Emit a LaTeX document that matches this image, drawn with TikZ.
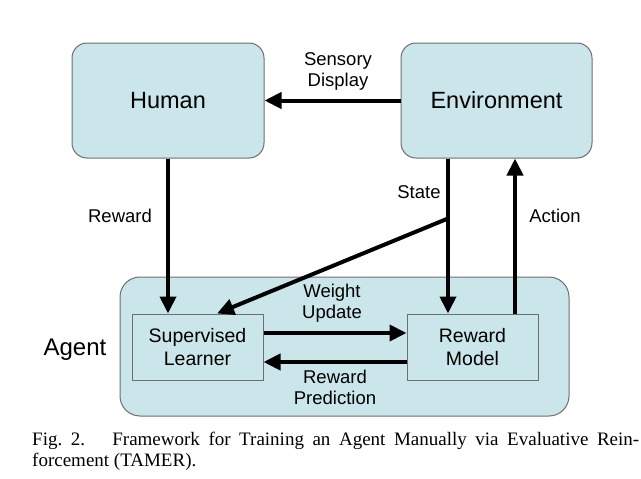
\documentclass[tikz,border=0pt]{standalone}
\usepackage{fontspec}
\setmainfont{Liberation Serif}
\newfontfamily\arialf{Liberation Sans}
\usetikzlibrary{arrows.meta,calc}
\definecolor{boxfill}{RGB}{202,230,235}
\definecolor{boxline}{RGB}{110,110,110}
\tikzset{
  rbox/.style={draw=boxline, line width=1pt, fill=boxfill, rounded corners=15pt, inner sep=0pt, font=\arialf\fontsize{23.5}{26}\selectfont},
  sbox/.style={draw=boxline, line width=1pt, fill=boxfill, inner sep=0pt, align=center, font=\arialf\fontsize{19.5}{23}\selectfont},
  elabel/.style={align=center, inner sep=0pt, font=\arialf\fontsize{18.5}{21.5}\selectfont},
  arr/.style={line width=4pt, -{Triangle[length=17pt,width=16pt]}},
  captf/.style={anchor=base west, inner sep=0pt, font=\fontsize{19}{21}\selectfont}
}
\begin{document}
\begin{tikzpicture}[x=1pt,y=-1pt]
\useasboundingbox (0,0) rectangle (641,479);
% agent container
\node[draw=boxline, line width=1pt, fill=boxfill, rounded corners=20pt, minimum width=449pt, minimum height=139pt, inner sep=0pt] (agent) at (344.5,346.5) {};
\node[font=\arialf\fontsize{24}{28}\selectfont, inner sep=0pt] (agentlbl) at (75,350) {Agent};
% boxes
\node[rbox, minimum width=192pt, minimum height=115pt] (hum) at (168,100.5) {Human};
\node[rbox, minimum width=191pt, minimum height=115pt] (env) at (496.5,100.5) {Environment};
\node[sbox, minimum width=131pt, minimum height=66pt] (sl) at (197.5,347) {Supervised\\Learner};
\node[sbox, minimum width=131pt, minimum height=66pt] (rm) at (472.5,347) {Reward\\Model};
% connectors
\draw[arr] (env.west) -- (hum.east);
\draw[arr] (hum.south) -- (hum.south |- sl.north);
\coordinate (stop) at ($(env.south)+(-48.5,0)$);
\draw[arr] (stop) -- (stop |- rm.north);
\coordinate (br) at ($(stop)+(0,60)$);
\coordinate (slin) at ($(sl.north)+(19.5,0)$);
\draw[arr] (br) -- (slin);
\coordinate (abot) at ($(rm.north)+(42.5,0)$);
\draw[arr] (abot) -- (abot |- env.south);
\draw[arr] ($(sl.east)+(0,-14)$) -- ($(rm.west)+(0,-14)$);
\draw[arr] ($(rm.west)+(0,15)$) -- ($(sl.east)+(0,15)$);
% labels
\node[elabel] (lsd) at (338,71.5) {Sensory\\Display};
\node[elabel] (lrw) at (120,216) {Reward};
\node[elabel] (lst) at (419,192) {State};
\node[elabel] (lac) at (555,216) {Action};
\node[elabel] (lwu) at (332,303) {Weight\\Update};
\node[elabel] (lrp) at (335,387.5) {Reward\\Prediction};
% caption
\node[captf] (cap1) at (32,445) {\makebox[607pt][s]{Fig.~2.\hspace{0.5em} Framework for Training an Agent Manually via Evaluative Rein-}};
\node[captf] (cap2) at (32,466) {forcement (TAMER).};
\end{tikzpicture}
\end{document}
